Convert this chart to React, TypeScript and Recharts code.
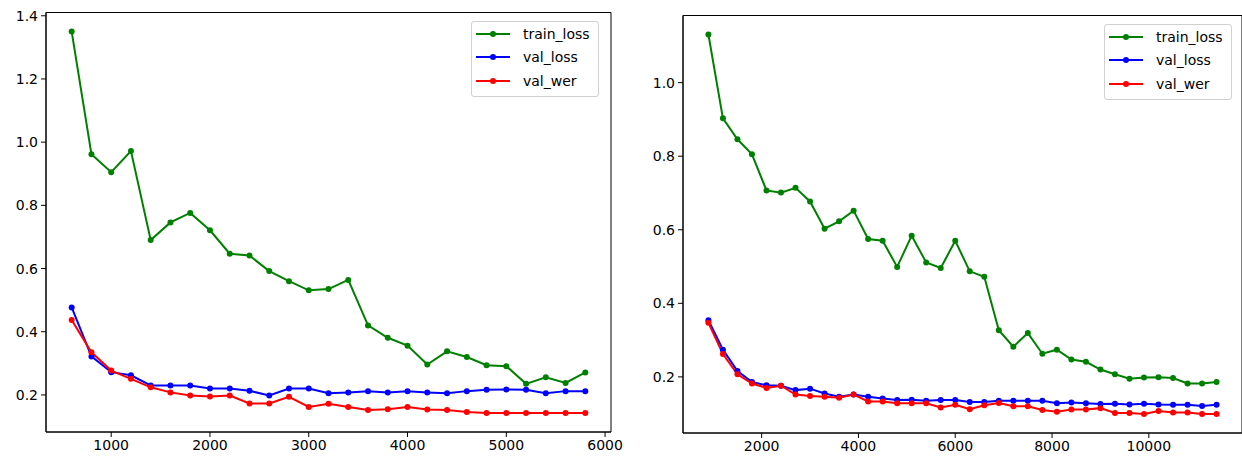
import React from 'react'
import { LineChart, Line, XAxis, YAxis, Legend, ReferenceArea } from 'recharts'

// left run: step every 200
const stepsA = [600, 800, 1000, 1200, 1400, 1600, 1800, 2000, 2200, 2400, 2600, 2800, 3000, 3200, 3400, 3600, 3800, 4000, 4200, 4400, 4600, 4800, 5000, 5200, 5400, 5600, 5800]
const trainLossA = [1.35, 0.962, 0.905, 0.972, 0.69, 0.746, 0.776, 0.721, 0.647, 0.641, 0.592, 0.56, 0.531, 0.535, 0.564, 0.42, 0.381, 0.356, 0.296, 0.338, 0.32, 0.294, 0.291, 0.235, 0.256, 0.238, 0.271]
const valLossA = [0.477, 0.322, 0.272, 0.262, 0.23, 0.23, 0.23, 0.22, 0.22, 0.213, 0.198, 0.22, 0.22, 0.205, 0.208, 0.212, 0.208, 0.212, 0.208, 0.205, 0.212, 0.216, 0.217, 0.216, 0.205, 0.212, 0.212]
const valWerA = [0.437, 0.335, 0.277, 0.251, 0.224, 0.208, 0.198, 0.195, 0.198, 0.173, 0.173, 0.194, 0.162, 0.172, 0.162, 0.152, 0.155, 0.162, 0.154, 0.152, 0.146, 0.143, 0.143, 0.143, 0.143, 0.143, 0.143]

// right run: step every 300
const stepsB = [900, 1200, 1500, 1800, 2100, 2400, 2700, 3000, 3300, 3600, 3900, 4200, 4500, 4800, 5100, 5400, 5700, 6000, 6300, 6600, 6900, 7200, 7500, 7800, 8100, 8400, 8700, 9000, 9300, 9600, 9900, 10200, 10500, 10800, 11100, 11400]
const trainLossB = [1.131, 0.903, 0.846, 0.805, 0.707, 0.701, 0.714, 0.677, 0.603, 0.623, 0.652, 0.575, 0.57, 0.499, 0.584, 0.511, 0.496, 0.57, 0.487, 0.472, 0.327, 0.282, 0.319, 0.263, 0.274, 0.247, 0.241, 0.22, 0.207, 0.195, 0.198, 0.199, 0.197, 0.182, 0.182, 0.186]
const valLossB = [0.354, 0.274, 0.216, 0.186, 0.177, 0.176, 0.164, 0.168, 0.155, 0.146, 0.152, 0.146, 0.141, 0.137, 0.138, 0.135, 0.137, 0.137, 0.132, 0.132, 0.135, 0.135, 0.135, 0.135, 0.128, 0.13, 0.128, 0.126, 0.127, 0.125, 0.127, 0.125, 0.124, 0.124, 0.121, 0.124]
const valWerB = [0.347, 0.262, 0.207, 0.182, 0.17, 0.176, 0.152, 0.148, 0.146, 0.143, 0.152, 0.133, 0.133, 0.128, 0.128, 0.128, 0.117, 0.124, 0.112, 0.123, 0.129, 0.12, 0.12, 0.11, 0.105, 0.111, 0.111, 0.115, 0.102, 0.102, 0.099, 0.107, 0.103, 0.103, 0.099, 0.099]

const xTicksA = [1000, 2000, 3000, 4000, 5000, 6000]
const yTicksA = [0.2, 0.4, 0.6, 0.8, 1.0, 1.2, 1.4]
const xTicksB = [2000, 4000, 6000, 8000, 10000]
const yTicksB = [0.2, 0.4, 0.6, 0.8, 1.0]

const FONT = '"DejaVu Sans", sans-serif'
const series = [
  { key: 'train_loss', color: '#008000' },
  { key: 'val_loss', color: '#0000ff' },
  { key: 'val_wer', color: '#ff0000' },
]

// matplotlib-style 5% padding around the data
function pad(vals: number[]): [number, number] {
  const lo = Math.min(...vals)
  const hi = Math.max(...vals)
  const m = (hi - lo) * 0.05
  return [lo - m, hi + m]
}

function MplLegend({ payload }: any) {
  return (
    <div style={{ border: '1px solid #d0d0d0', borderRadius: 3, background: 'rgba(255,255,255,0.8)', padding: '0px 8px 3px 4px', fontFamily: FONT, fontSize: 14 }}>
      {(payload || []).map((p: any) => (
        <div key={p.value} style={{ display: 'flex', alignItems: 'center', height: 23.5 }}>
          <svg width={34} height={10} style={{ marginRight: 13 }}>
            <line x1={0} y1={5} x2={34} y2={5} stroke={p.color} strokeWidth={2} />
            <circle cx={17} cy={5} r={3} fill={p.color} />
          </svg>
          <span style={{ color: '#000' }}>{p.value}</span>
        </div>
      ))}
    </div>
  )
}

function Panel({ steps, a, b, c, xTicks, yTicks, width, height, top, xh, yw, right, legendPos }: any) {
  const data = steps.map((s: number, i: number) => ({ step: s, train_loss: a[i], val_loss: b[i], val_wer: c[i] }))
  const xd = pad(steps)
  const yd = pad([...a, ...b, ...c])
  const tick = { fill: '#000', fontSize: 14, fontFamily: FONT }
  return (
    <LineChart width={width} height={height} data={data} margin={{ top, right, bottom: 0, left: 0 }}>
      <XAxis dataKey="step" type="number" domain={xd} ticks={xTicks} allowDataOverflow
        tick={tick} tickSize={5} tickMargin={3} stroke="#000" height={xh} />
      <YAxis type="number" domain={yd} ticks={yTicks} allowDataOverflow width={yw}
        tick={tick} tickSize={5} tickMargin={3} stroke="#000" tickFormatter={(v: number) => v.toFixed(1)} />
      <ReferenceArea x1={xd[0]} x2={xd[1]} y1={yd[0]} y2={yd[1]} fill="none" stroke="#000" strokeWidth={1} ifOverflow="visible" />
      <Legend content={<MplLegend />} verticalAlign="middle" align="center" layout="horizontal"
        wrapperStyle={{ position: 'absolute', left: legendPos[0], top: legendPos[1], width: 'auto', height: 'auto' }} />
      {series.map((s) => (
        <Line key={s.key} dataKey={s.key} name={s.key} stroke={s.color} strokeWidth={2} isAnimationActive={false}
          dot={{ r: 3, fill: s.color, stroke: 'none' }} activeDot={false} />
      ))}
    </LineChart>
  )
}

export default function App() {
  return (
    <div style={{ position: 'absolute', left: 0, top: 0, width: 1242, height: 463, background: '#fff', overflow: 'hidden' }}>
      <div style={{ position: 'absolute', left: 0, top: 0 }}>
        <Panel steps={stepsA} a={trainLossA} b={valLossA} c={valWerA} xTicks={xTicksA} yTicks={yTicksA}
          width={640} height={463} top={12.5} xh={31} yw={46} right={29} legendPos={[471, 21]} />
      </div>
      <div style={{ position: 'absolute', left: 625, top: 0 }}>
        <Panel steps={stepsB} a={trainLossB} b={valLossB} c={valWerB} xTicks={xTicksB} yTicks={yTicksB}
          width={618} height={463} top={15.5} xh={30} yw={58} right={1} legendPos={[479, 24]} />
      </div>
    </div>
  )
}
